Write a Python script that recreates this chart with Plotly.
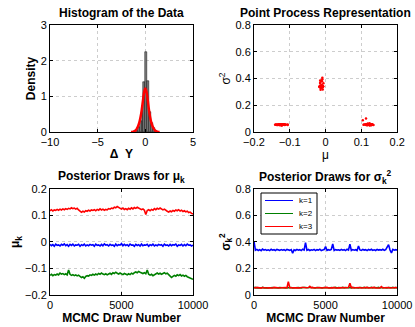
import plotly.graph_objects as go

# ---- data ----
hist_centers = [-1.3, -1.1, -0.9, -0.7, -0.5, -0.3, -0.1, 0.1, 0.3, 0.5, 0.7, 0.9, 1.1, 1.3]
hist_density = [0.01, 0.03, 0.06, 0.15, 0.30, 0.62, 1.40, 2.25, 1.42, 0.55, 0.25, 0.10, 0.04, 0.01]

dens_x = [-1.5, -1.25, -1.0, -0.875, -0.75, -0.625, -0.5, -0.375, -0.25, -0.125, 0.0,
          0.125, 0.25, 0.375, 0.5, 0.625, 0.75, 0.875, 1.0, 1.25, 1.5]
dens_y = [0.0, 0.01, 0.05, 0.10, 0.17, 0.27, 0.42, 0.62, 0.88, 1.12, 1.22,
          1.13, 0.90, 0.63, 0.42, 0.27, 0.17, 0.10, 0.05, 0.01, 0.0]

draws = list(range(0, 10001, 100))

mu_k1 = [-0.009, -0.014, -0.010, -0.016, -0.008, -0.013, -0.011, -0.015, -0.009, -0.012,
         -0.007, -0.014, -0.010, -0.016, -0.009, -0.013, -0.008, -0.015, -0.011, -0.012,
         -0.009, -0.016, -0.010, -0.013, -0.008, -0.015, -0.011, -0.014, -0.009, -0.012,
         -0.010, -0.016, -0.008, -0.013, -0.011, -0.015, -0.009, -0.014, -0.007, -0.012,
         -0.010, -0.015, -0.009, -0.013, -0.011, -0.016, -0.008, -0.014, -0.010, -0.012,
         -0.006, -0.014, -0.009, -0.013, -0.010, -0.015, -0.008, -0.012, -0.011, -0.016,
         -0.009, -0.013, -0.010, -0.015, -0.008, -0.014, -0.011, -0.012, -0.009, -0.016,
         -0.010, -0.013, -0.008, -0.015, -0.011, -0.014, -0.009, -0.012, -0.010, -0.016,
         -0.008, -0.013, -0.011, -0.015, -0.009, -0.014, -0.010, -0.012, -0.008, -0.016,
         -0.011, -0.013, -0.009, -0.015, -0.010, -0.014, -0.008, -0.012, -0.011, -0.015, -0.012]

mu_k2 = [-0.126, -0.122, -0.127, -0.123, -0.125, -0.121, -0.124, -0.117, -0.121, -0.119,
         -0.123, -0.120, -0.124, -0.106, -0.122, -0.126, -0.123, -0.127, -0.124, -0.128,
         -0.125, -0.129, -0.134, -0.131, -0.137, -0.130, -0.127, -0.129, -0.124, -0.126,
         -0.122, -0.125, -0.121, -0.124, -0.119, -0.122, -0.117, -0.121, -0.123, -0.120,
         -0.124, -0.121, -0.118, -0.122, -0.116, -0.119, -0.114, -0.118, -0.121, -0.117,
         -0.120, -0.123, -0.119, -0.122, -0.124, -0.120, -0.123, -0.118, -0.121, -0.116,
         -0.113, -0.116, -0.111, -0.114, -0.117, -0.119, -0.116, -0.120, -0.106, -0.122,
         -0.125, -0.122, -0.127, -0.124, -0.120, -0.117, -0.121, -0.118, -0.122, -0.119,
         -0.116, -0.120, -0.118, -0.123, -0.127, -0.134, -0.130, -0.126, -0.129, -0.124,
         -0.127, -0.123, -0.128, -0.125, -0.129, -0.126, -0.131, -0.133, -0.136, -0.139, -0.141]

mu_k3 = [0.118, 0.122, 0.117, 0.121, 0.119, 0.123, 0.120, 0.124, 0.121, 0.125,
         0.122, 0.126, 0.123, 0.127, 0.125, 0.129, 0.126, 0.128, 0.124, 0.127,
         0.121, 0.115, 0.112, 0.116, 0.113, 0.118, 0.116, 0.120, 0.117, 0.121,
         0.119, 0.122, 0.118, 0.123, 0.120, 0.125, 0.121, 0.124, 0.120, 0.123,
         0.121, 0.126, 0.124, 0.128, 0.126, 0.131, 0.129, 0.134, 0.130, 0.127,
         0.124, 0.128, 0.123, 0.126, 0.122, 0.127, 0.124, 0.129, 0.125, 0.130,
         0.127, 0.131, 0.128, 0.126, 0.122, 0.125, 0.120, 0.104, 0.119, 0.122,
         0.118, 0.123, 0.120, 0.126, 0.122, 0.127, 0.124, 0.128, 0.125, 0.121,
         0.124, 0.119, 0.116, 0.113, 0.117, 0.114, 0.119, 0.116, 0.121, 0.118,
         0.122, 0.117, 0.120, 0.115, 0.118, 0.114, 0.116, 0.111, 0.113, 0.108, 0.106]

s2_k1 = [0.405, 0.338, 0.344, 0.336, 0.342, 0.335, 0.346, 0.339, 0.343, 0.337,
         0.341, 0.335, 0.345, 0.338, 0.342, 0.336, 0.344, 0.339, 0.337, 0.343,
         0.338, 0.342, 0.335, 0.344, 0.340, 0.337, 0.343, 0.316, 0.341, 0.336,
         0.344, 0.338, 0.342, 0.335, 0.345, 0.339, 0.395, 0.337, 0.343, 0.336,
         0.341, 0.338, 0.344, 0.335, 0.342, 0.339, 0.346, 0.336, 0.340, 0.343,
         0.365, 0.337, 0.342, 0.338, 0.344, 0.386, 0.336, 0.343, 0.339, 0.341,
         0.337, 0.344, 0.338, 0.342, 0.335, 0.345, 0.339, 0.383, 0.336, 0.343,
         0.338, 0.342, 0.336, 0.370, 0.340, 0.337, 0.344, 0.339, 0.342, 0.335,
         0.343, 0.338, 0.345, 0.337, 0.341, 0.336, 0.344, 0.339, 0.342, 0.338,
         0.345, 0.337, 0.343, 0.362, 0.380, 0.339, 0.318, 0.344, 0.338, 0.342, 0.340]

s2_k2 = [0.054, 0.057, 0.053, 0.056, 0.055, 0.053, 0.057, 0.054, 0.056, 0.055,
         0.053, 0.056, 0.054, 0.057, 0.055, 0.053, 0.056, 0.054, 0.057, 0.055,
         0.054, 0.056, 0.053, 0.055, 0.057, 0.054, 0.056, 0.053, 0.055, 0.057,
         0.054, 0.056, 0.055, 0.053, 0.057, 0.054, 0.056, 0.055, 0.053, 0.056,
         0.057, 0.054, 0.055, 0.053, 0.056, 0.054, 0.057, 0.055, 0.053, 0.056,
         0.054, 0.057, 0.055, 0.053, 0.056, 0.054, 0.055, 0.057, 0.053, 0.056,
         0.054, 0.055, 0.057, 0.053, 0.056, 0.054, 0.055, 0.057, 0.053, 0.056,
         0.054, 0.057, 0.055, 0.053, 0.056, 0.054, 0.055, 0.057, 0.053, 0.056,
         0.054, 0.055, 0.057, 0.053, 0.056, 0.054, 0.055, 0.057, 0.053, 0.056,
         0.054, 0.057, 0.055, 0.053, 0.056, 0.054, 0.055, 0.057, 0.053, 0.056, 0.055]

s2_k3 = [0.056, 0.053, 0.057, 0.054, 0.055, 0.052, 0.056, 0.054, 0.057, 0.053,
         0.055, 0.054, 0.056, 0.053, 0.057, 0.055, 0.054, 0.056, 0.053, 0.055,
         0.057, 0.054, 0.056, 0.053, 0.101, 0.055, 0.054, 0.057, 0.053, 0.056,
         0.054, 0.055, 0.053, 0.057, 0.054, 0.056, 0.055, 0.053, 0.056, 0.065,
         0.054, 0.057, 0.053, 0.055, 0.056, 0.054, 0.057, 0.053, 0.055, 0.056,
         0.054, 0.057, 0.053, 0.056, 0.055, 0.054, 0.057, 0.053, 0.056, 0.055,
         0.054, 0.056, 0.053, 0.057, 0.055, 0.054, 0.056, 0.088, 0.054, 0.057,
         0.053, 0.055, 0.056, 0.054, 0.057, 0.053, 0.055, 0.056, 0.054, 0.057,
         0.053, 0.055, 0.056, 0.054, 0.057, 0.053, 0.055, 0.056, 0.054, 0.064,
         0.053, 0.055, 0.056, 0.054, 0.057, 0.053, 0.055, 0.056, 0.054, 0.057, 0.055]

k_names = ['k=1', 'k=2', 'k=3']
k_colors = ['rgb(0,0,255)', 'rgb(0,128,0)', 'rgb(255,0,0)']

FONT = 'Liberation Sans, Arial, sans-serif'

fig = go.Figure()

# histogram + fitted density
fig.add_trace(go.Bar(x=hist_centers, y=hist_density, width=0.2,
                     marker=dict(color='rgb(128,128,128)', line=dict(color='black', width=0.5)),
                     xaxis='x', yaxis='y', showlegend=False))
fig.add_trace(go.Scatter(x=dens_x, y=dens_y, mode='lines', line=dict(color='red', width=2.5, shape='spline'),
                         xaxis='x', yaxis='y', showlegend=False))

# point process (mu, sigma^2) pairs
for mu, s2 in zip([mu_k1, mu_k2, mu_k3], [s2_k1, s2_k2, s2_k3]):
    fig.add_trace(go.Scatter(x=mu, y=s2, mode='markers', marker=dict(color='red', size=2.5),
                             xaxis='x2', yaxis='y2', showlegend=False))

# traces
for mu, col in zip([mu_k1, mu_k2, mu_k3], k_colors):
    fig.add_trace(go.Scatter(x=draws, y=mu, mode='lines', line=dict(color=col, width=1.6),
                             xaxis='x3', yaxis='y3', showlegend=False))
for s2, col in zip([s2_k1, s2_k2, s2_k3], k_colors):
    fig.add_trace(go.Scatter(x=draws, y=s2, mode='lines', line=dict(color=col, width=1.6),
                             xaxis='x4', yaxis='y4', showlegend=False))


def ax(domain, rng, dtick, title='', anchor=None, bold=True, standoff=2):
    return dict(domain=domain, range=rng, dtick=dtick, tick0=rng[0], anchor=anchor,
                automargin=False, tickformat='d' if dtick >= 1 else None,
                showline=True, linecolor='black', linewidth=1, mirror='ticks',
                ticks='inside', ticklen=3, tickcolor='black',
                showgrid=True, gridcolor='rgb(205,205,205)', griddash='dot', gridwidth=1,
                zeroline=False, tickfont=dict(size=11, color='black', family=FONT),
                title=dict(text=('<b>%s</b>' % title) if (bold and title) else title,
                           font=dict(size=12, color='black', family=FONT), standoff=standoff))


cx1, cx2 = [0.1205, 0.465], [0.612, 0.957]
ry1, ry2 = [0.5963, 0.9235], [0.0979, 0.422]

fig.update_layout(
    width=415, height=327, margin=dict(l=0, r=0, t=0, b=0),
    paper_bgcolor='white', plot_bgcolor='white',
    font=dict(family=FONT, color='black'),
    bargap=0, showlegend=False,
    xaxis=ax(cx1, [-10, 5], 5, 'Δ  Y', 'y'),
    yaxis=ax(ry1, [0, 3], 1, 'Density', 'x'),
    xaxis2=ax(cx2, [-0.2, 0.2], 0.1, 'μ', 'y2', bold=False),
    yaxis2=ax(ry1, [0, 0.8], 0.2, 'σ<sup>2</sup>', 'x2', bold=False),
    xaxis3=ax(cx1, [0, 10000], 5000, 'MCMC Draw Number', 'y3'),
    yaxis3=ax(ry2, [-0.2, 0.2], 0.1, 'μ<sub>k</sub>', 'x3'),
    xaxis4=ax(cx2, [0, 10000], 5000, 'MCMC Draw Number', 'y4'),
    yaxis4=ax(ry2, [0, 0.8], 0.2, 'σ<sub>k</sub><sup>2</sup>', 'x4'),
)

titles = [('Histogram of the Data', sum(cx1) / 2, 0.96),
          ('Point Process Representation', sum(cx2) / 2, 0.96),
          ('Posterior Draws for μ<sub>k</sub>', sum(cx1) / 2, 0.458),
          ('Posterior Draws for σ<sub>k</sub><sup>2</sup>', sum(cx2) / 2, 0.458)]
for text, x, y in titles:
    fig.add_annotation(text='<b>%s</b>' % text, x=x, y=y, xref='paper', yref='paper',
                       showarrow=False, xanchor='center', yanchor='middle',
                       font=dict(size=12, color='black', family=FONT))

# MATLAB-style legend box inside the sigma^2 panel (paper coordinates)
lg_x0, lg_x1, lg_y1 = 261 / 415, 317 / 415, 1 - 193 / 327
row_h = 13 / 327
fig.add_shape(type='rect', xref='paper', yref='paper', x0=lg_x0, x1=lg_x1,
              y0=lg_y1 - 3 * row_h - 2 / 327, y1=lg_y1,
              line=dict(color='black', width=1), fillcolor='white', layer='above')
for i, (name, col) in enumerate(zip(k_names, k_colors)):
    yc = lg_y1 - (i + 0.5) * row_h - 1 / 327
    fig.add_shape(type='line', xref='paper', yref='paper', x0=lg_x0 + 4 / 415, x1=lg_x0 + 32 / 415,
                  y0=yc, y1=yc, line=dict(color=col, width=1), layer='above')
    fig.add_annotation(text=name, x=lg_x0 + 36 / 415, y=yc, xref='paper', yref='paper',
                       showarrow=False, xanchor='left', yanchor='middle',
                       font=dict(size=8, color='black', family=FONT))

# drop the default 8px page margin so the figure sits at the window's corner
fig.write_html('out.html', config={'displayModeBar': False},
               post_script="document.body.style.margin='0';")
